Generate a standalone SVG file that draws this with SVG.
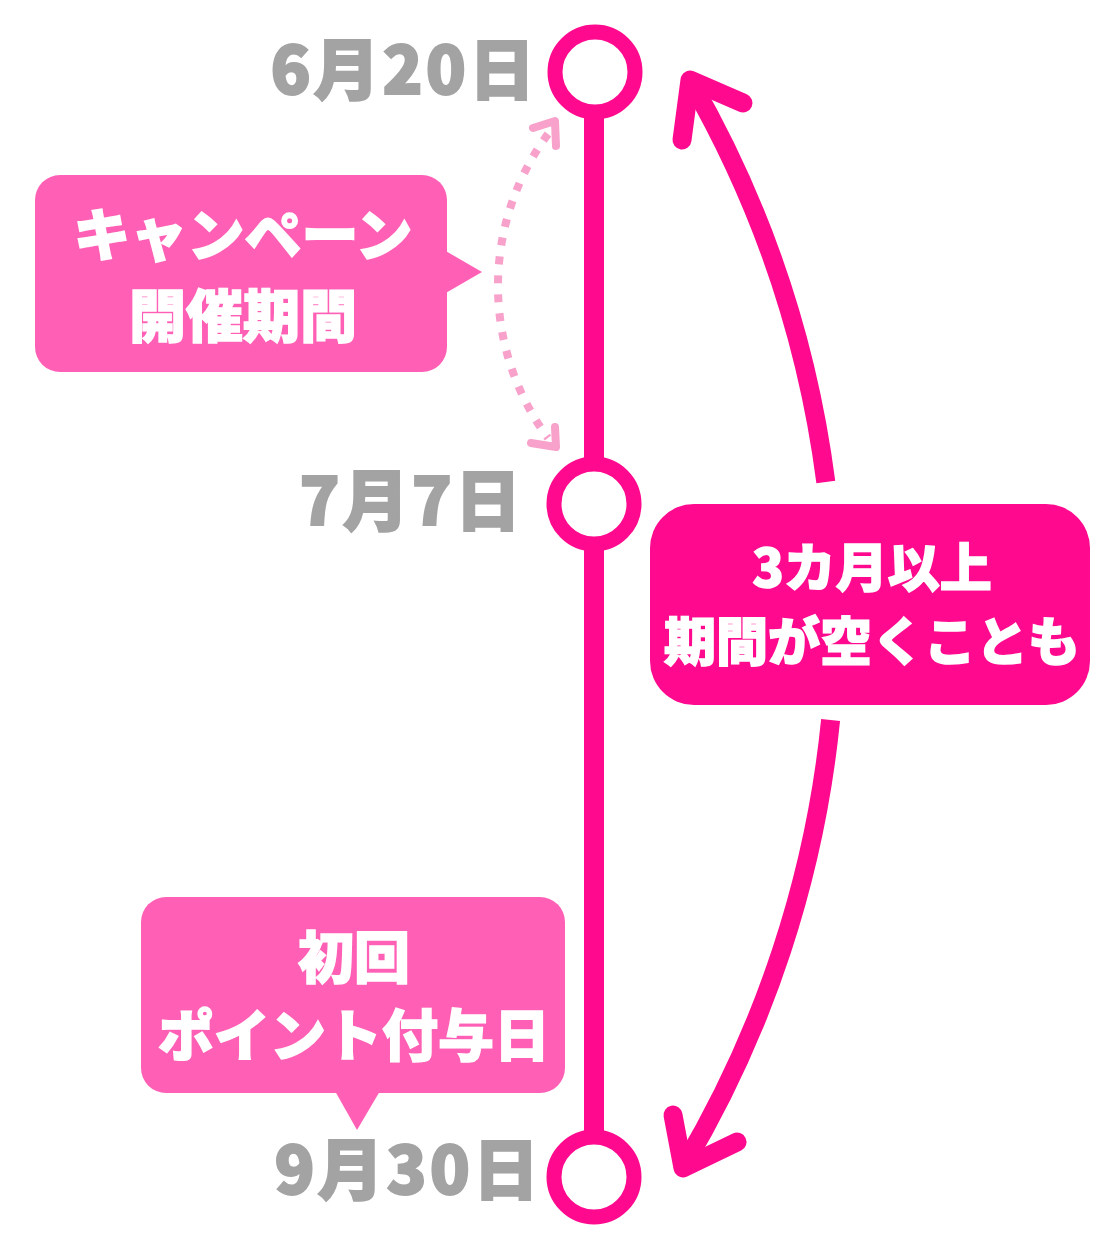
<svg xmlns="http://www.w3.org/2000/svg" width="1100" height="1238" viewBox="0 0 1100 1238">
<style>
.date{font-family:"Noto Sans CJK JP","Noto Sans",sans-serif;font-weight:900;font-size:66px;fill:#A3A3A3;stroke:#A3A3A3;stroke-width:2;letter-spacing:3px;text-anchor:end}
.lbl{font-family:"Noto Sans CJK JP","Noto Sans",sans-serif;font-weight:900;fill:#FFFFFF;stroke:#FFFFFF;stroke-width:1.5;text-anchor:middle}
.node{fill:#FFFFFF;stroke:#FF0A8E;stroke-width:15}
.bubble{fill:#FF60B5}
.big{fill:none;stroke:#FF0A8E;stroke-width:19}
.head{fill:none;stroke:#FF0A8E;stroke-width:19;stroke-linecap:round;stroke-linejoin:round}
.dot{fill:none;stroke:#F7A1CB;stroke-width:8;stroke-dasharray:8 11}
.dhead{fill:none;stroke:#F7A1CB;stroke-width:8;stroke-linecap:round;stroke-linejoin:round}
</style>
<rect width="1100" height="1238" fill="#FFFFFF"/>
<g id="connectors">
  <line x1="594" y1="110" x2="594" y2="1140" stroke="#FF0A8E" stroke-width="20"/>
  <path class="dot" d="M 548 134 A 256 256 0 0 0 548 438"/>
  <path class="dhead" d="M 533 128 L 555 121 L 556 146"/>
  <path class="dhead" d="M 531 443 L 556 447 L 555 427"/>
  <path class="big" d="M 691 82 A 1083 1083 0 0 1 825.8 482"/>
  <path class="big" d="M 830.6 720 A 1083 1083 0 0 1 684 1165"/>
  <path class="head" d="M 743 103 L 690 80 L 682 140"/>
  <path class="head" d="M 673 1115 L 683 1168 L 737 1142"/>
</g>
<g id="node-jun20">
  <circle class="node" cx="595" cy="72" r="40"/>
  <text class="date" x="538" y="94">6月20日</text>
</g>
<g id="node-jul7">
  <circle class="node" cx="594" cy="504" r="40"/>
  <text class="date" x="524" y="525">7月7日</text>
</g>
<g id="node-sep30">
  <circle class="node" cx="594" cy="1177" r="40"/>
  <text class="date" x="542" y="1194">9月30日</text>
</g>
<g id="bubble-campaign">
  <rect class="bubble" x="35" y="175" width="412" height="197" rx="25"/>
  <polygon class="bubble" points="444,250 482,272 444,294"/>
  <text class="lbl" x="243" y="256" font-size="57">キャンペーン</text>
  <text class="lbl" x="243" y="337" font-size="57">開催期間</text>
</g>
<g id="box-gap">
  <rect x="650" y="504" width="440" height="201" rx="44" fill="#FF0A8E"/>
  <text class="lbl" x="872" y="587" font-size="52">3カ月以上</text>
  <text class="lbl" x="872" y="661" font-size="52">期間が空くことも</text>
</g>
<g id="bubble-first">
  <rect class="bubble" x="141" y="897" width="424" height="196" rx="25"/>
  <polygon class="bubble" points="335,1091 357,1130 380,1091"/>
  <text class="lbl" x="354" y="978" font-size="56">初回</text>
  <text class="lbl" x="354" y="1056" font-size="56">ポイント付与日</text>
</g>
</svg>
